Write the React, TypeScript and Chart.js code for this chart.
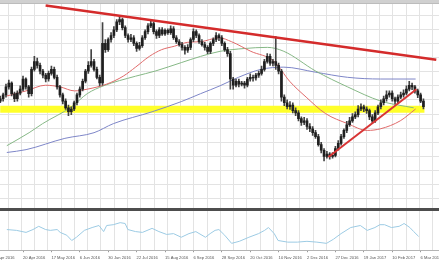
import React, { useEffect, useRef } from 'react';
import { Chart, registerables } from 'chart.js';

Chart.register(...registerables);

// ---------- data (gold, daily-ish candles, Apr 2016 - Mar 2017) ----------
const TICK_DATES = [
  '1 Apr 2016', '20 Apr 2016', '17 May 2016', '6 Jun 2016', '30 Jun 2016', '22 Jul 2016',
  '15 Aug 2016', '6 Sep 2016', '28 Sep 2016', '20 Oct 2016', '10 Nov 2016', '2 Dec 2016',
  '27 Dec 2016', '19 Jan 2017', '10 Feb 2017', '6 Mar 2017',
];
const SLOT_COUNT = 158;
const TICK_EVERY = 10;
const FIRST_CANDLE = 2;

const OPEN = [
  1223, 1227, 1234, 1248, 1255, 1236, 1227, 1237, 1244, 1262,
  1248, 1236, 1279, 1293, 1286, 1276, 1269, 1262, 1272, 1279,
  1265, 1248, 1234, 1223, 1211, 1204, 1209, 1220, 1234, 1244,
  1258, 1276, 1286, 1293, 1279, 1265, 1255, 1325, 1314, 1332,
  1339, 1349, 1363, 1367, 1353, 1339, 1332, 1335, 1325, 1316,
  1321, 1335, 1346, 1356, 1360, 1346, 1339, 1349, 1342, 1348,
  1344, 1351, 1335, 1328, 1323, 1318, 1313, 1318, 1332, 1346,
  1339, 1328, 1323, 1318, 1311, 1325, 1332, 1339, 1335, 1325,
  1314, 1307, 1262, 1251, 1258, 1253, 1255, 1251, 1262, 1265,
  1264, 1269, 1272, 1279, 1293, 1302, 1290, 1293, 1286, 1276,
  1230, 1220, 1213, 1216, 1206, 1202, 1192, 1185, 1188, 1178,
  1174, 1167, 1160, 1146, 1136, 1125, 1129, 1125, 1127, 1139,
  1148, 1160, 1171, 1181, 1188, 1195, 1199, 1209, 1213, 1209,
  1206, 1195, 1188, 1202, 1213, 1220, 1227, 1234, 1237, 1227,
  1223, 1230, 1234, 1237, 1244, 1251, 1248, 1241, 1234, 1223,
];
const HIGH = [
  1232, 1237, 1253, 1260, 1257, 1239, 1241, 1250, 1267, 1264,
  1251, 1283, 1302, 1299, 1290, 1279, 1272, 1276, 1285, 1283,
  1269, 1251, 1237, 1227, 1216, 1213, 1223, 1237, 1248, 1262,
  1279, 1293, 1314, 1297, 1283, 1269, 1362, 1332, 1335, 1344,
  1355, 1367, 1372, 1370, 1356, 1342, 1341, 1339, 1328, 1327,
  1339, 1349, 1360, 1365, 1363, 1349, 1353, 1353, 1351, 1351,
  1356, 1355, 1339, 1332, 1327, 1321, 1323, 1335, 1351, 1349,
  1342, 1332, 1327, 1321, 1328, 1335, 1344, 1342, 1339, 1328,
  1318, 1311, 1265, 1262, 1262, 1258, 1258, 1265, 1271, 1269,
  1272, 1276, 1285, 1297, 1307, 1306, 1297, 1337, 1290, 1279,
  1234, 1225, 1222, 1220, 1211, 1206, 1195, 1194, 1192, 1183,
  1178, 1171, 1164, 1150, 1139, 1134, 1132, 1132, 1143, 1153,
  1164, 1174, 1187, 1194, 1201, 1204, 1215, 1218, 1216, 1213,
  1209, 1199, 1206, 1216, 1225, 1232, 1241, 1241, 1241, 1230,
  1234, 1239, 1243, 1250, 1258, 1255, 1251, 1244, 1237, 1227,
];
const LOW = [
  1220, 1223, 1230, 1244, 1232, 1222, 1223, 1234, 1241, 1244,
  1230, 1232, 1276, 1281, 1271, 1264, 1257, 1258, 1269, 1262,
  1244, 1230, 1218, 1208, 1197, 1199, 1206, 1216, 1230, 1241,
  1255, 1272, 1283, 1276, 1262, 1250, 1251, 1309, 1311, 1327,
  1335, 1346, 1358, 1349, 1335, 1327, 1328, 1321, 1311, 1313,
  1318, 1332, 1342, 1353, 1342, 1334, 1335, 1339, 1339, 1341,
  1341, 1332, 1325, 1320, 1313, 1306, 1309, 1314, 1328, 1335,
  1325, 1320, 1313, 1307, 1307, 1321, 1328, 1330, 1321, 1311,
  1302, 1244, 1244, 1248, 1248, 1250, 1246, 1248, 1258, 1258,
  1260, 1265, 1269, 1276, 1290, 1286, 1285, 1279, 1271, 1223,
  1215, 1209, 1208, 1202, 1197, 1188, 1180, 1181, 1173, 1169,
  1162, 1157, 1143, 1131, 1117, 1122, 1120, 1122, 1124, 1136,
  1145, 1157, 1167, 1178, 1185, 1192, 1195, 1206, 1204, 1201,
  1190, 1183, 1185, 1199, 1209, 1216, 1223, 1230, 1223, 1218,
  1220, 1227, 1230, 1234, 1241, 1243, 1237, 1229, 1220, 1209,
];
const CLOSE = [
  1227, 1234, 1248, 1255, 1236, 1227, 1237, 1244, 1262, 1248,
  1236, 1279, 1293, 1286, 1276, 1269, 1262, 1272, 1279, 1265,
  1248, 1234, 1223, 1211, 1204, 1209, 1220, 1234, 1244, 1258,
  1276, 1286, 1293, 1279, 1265, 1255, 1325, 1314, 1332, 1339,
  1349, 1363, 1367, 1353, 1339, 1332, 1335, 1325, 1316, 1321,
  1335, 1346, 1356, 1360, 1346, 1339, 1349, 1342, 1348, 1344,
  1351, 1335, 1328, 1323, 1318, 1313, 1318, 1332, 1346, 1339,
  1328, 1323, 1318, 1311, 1325, 1332, 1339, 1335, 1325, 1314,
  1307, 1262, 1251, 1258, 1253, 1255, 1251, 1262, 1265, 1264,
  1269, 1272, 1279, 1293, 1302, 1290, 1293, 1286, 1276, 1230,
  1220, 1213, 1216, 1206, 1202, 1192, 1185, 1188, 1178, 1174,
  1167, 1160, 1146, 1136, 1125, 1129, 1125, 1127, 1139, 1148,
  1160, 1171, 1181, 1188, 1195, 1199, 1209, 1213, 1209, 1206,
  1195, 1188, 1202, 1213, 1220, 1227, 1234, 1237, 1227, 1223,
  1230, 1234, 1237, 1244, 1251, 1248, 1241, 1234, 1223, 1213,
];

// moving averages [slot index, price]
const MA_FAST = [
  [1.9, 1232], [8.9, 1241], [16, 1251], [21.3, 1248], [26.5, 1241], [31.1, 1244], [38.2, 1253],
  [44.2, 1267], [48.7, 1283], [53.7, 1302], [58.2, 1314], [62.8, 1320], [67.7, 1327], [72.3, 1328],
  [79, 1335], [83.6, 1328], [90.6, 1311], [99.1, 1293], [104.7, 1258], [110.7, 1230], [117.7, 1201],
  [125.8, 1183], [132.9, 1171], [137.8, 1174], [144.9, 1188], [150.5, 1209],
];
const MA_MID = [
  [1.9, 1144], [10, 1167], [14.9, 1183], [25.5, 1213], [31.1, 1236], [37.1, 1250], [48.7, 1267],
  [55.8, 1276], [65.3, 1291], [72.3, 1302], [79.4, 1311], [88.2, 1316], [96.6, 1318], [102.6, 1311],
  [114.2, 1276], [125.8, 1248], [137.8, 1223], [149.8, 1211],
];
const MA_SLOW = [
  [1.9, 1132], [8.9, 1137], [23, 1157], [33.6, 1167], [40.6, 1183], [54.7, 1204], [65.3, 1222],
  [72.3, 1236], [79.4, 1250], [86.1, 1265], [94.2, 1279], [102.6, 1283], [114.2, 1274],
  [125.8, 1265], [137.8, 1262], [150.5, 1262],
];
const DOWN_TREND = [[16, 1392], [158, 1296]];
const UP_TREND = [[118.8, 1124], [150.8, 1244]];
const SUPPORT = [[-0.5, 1208.4], [153.7, 1208.4]];

// oscillator [slot index, value 0-100]
const OSC = [
  [1.9, 51], [5.4, 49], [8.9, 44], [11.4, 51], [13.5, 59], [16, 51], [17.7, 49], [20.2, 51],
  [21.3, 44], [23.7, 37], [25.5, 24], [27.2, 32], [30.1, 49], [32.9, 56], [35.4, 61], [37.1, 46],
  [38.2, 61], [40.6, 63], [43.1, 68], [44.9, 66], [45.9, 51], [48.7, 46], [51.2, 44], [54.7, 54],
  [57.2, 46], [60, 39], [62.5, 41], [65.3, 32], [68.1, 41], [70.6, 46], [74.1, 32], [75.8, 41],
  [77.6, 49], [79, 51], [81.1, 37], [83.6, 17], [86.4, 22], [89.9, 32], [93.4, 41], [95.6, 49],
  [97, 56], [99.1, 41], [100.5, 24], [104, 20], [107.5, 20], [111, 22], [114.6, 20], [118.1, 17],
  [120.6, 27], [123.4, 41], [126.9, 56], [130.4, 61], [132.9, 49], [135.7, 56], [137.5, 63],
  [139.2, 63], [141.7, 56], [144.5, 59], [145.6, 63], [146.3, 66], [148.4, 56], [149.8, 46],
  [151.6, 34],
];

// ---------- styling / layout constants ----------
const PRICE_MIN = 1030.75;
const PRICE_MAX = 1394.75;
const PRICE_GRID_START = 1050;
const PRICE_GRID_STEP = 25;
const GRID_X_START = 4.75;
const GRID_X_STEP = 4.824;

const X_LABELS = Array.from({ length: SLOT_COUNT }, (_, i) =>
  i % TICK_EVERY === 0 && i / TICK_EVERY < TICK_DATES.length ? TICK_DATES[i / TICK_EVERY] : ''
);
const pts = (arr: number[][]) => arr.map(([x, y]) => ({ x, y }));

export default function App() {
  const ref = useRef<HTMLCanvasElement | null>(null);

  useEffect(() => {
    document.body.style.margin = '0';
    if (!ref.current) return;
    const wicks = X_LABELS.map((_, i) => {
      const k = i - FIRST_CANDLE;
      return k >= 0 && k < CLOSE.length ? [LOW[k], HIGH[k]] : null;
    });
    const bodies = X_LABELS.map((_, i) => {
      const k = i - FIRST_CANDLE;
      return k >= 0 && k < CLOSE.length ? [OPEN[k], CLOSE[k]] : null;
    });
    const lineBase = {
      type: 'line' as const,
      xAxisID: 'xl',
      yAxisID: 'y',
      pointRadius: 0,
      borderWidth: 1,
      fill: false,
    };
    const chart = new Chart(ref.current, {
      type: 'bar',
      data: {
        labels: X_LABELS,
        datasets: [
          { ...lineBase, label: 'Down trend', data: pts(DOWN_TREND), borderColor: '#d42b2b', borderWidth: 2.5, order: 0 } as any,
          { ...lineBase, label: 'Up trend', data: pts(UP_TREND), borderColor: '#d83535', borderWidth: 2, order: 0 } as any,
          {
            type: 'bar', label: 'Body', data: bodies, xAxisID: 'x', yAxisID: 'y',
            backgroundColor: '#1f1f1f', barThickness: 2, grouped: false, order: 1,
          } as any,
          {
            type: 'bar', label: 'Wick', data: wicks, xAxisID: 'x', yAxisID: 'y',
            backgroundColor: '#444444', barThickness: 1, grouped: false, order: 2,
          } as any,
          { ...lineBase, label: 'MA fast', data: pts(MA_FAST), borderColor: '#e06a6a', tension: 0.4, cubicInterpolationMode: 'monotone', order: 3 } as any,
          { ...lineBase, label: 'MA mid', data: pts(MA_MID), borderColor: '#86b886', tension: 0.4, cubicInterpolationMode: 'monotone', order: 3 } as any,
          { ...lineBase, label: 'MA slow', data: pts(MA_SLOW), borderColor: '#7e86c8', tension: 0.4, cubicInterpolationMode: 'monotone', order: 3 } as any,
          { ...lineBase, label: 'Oscillator', data: pts(OSC), yAxisID: 'yo', borderColor: '#9ccbe4', order: 3 } as any,
          { ...lineBase, label: 'Support', data: pts(SUPPORT), borderColor: '#ffff2a', borderWidth: 7, order: 5 } as any,
        ],
      },
      options: {
        responsive: false,
        animation: false,
        layout: { padding: { left: 13.2, right: 18.1, top: 0, bottom: 4.84 } },
        plugins: { legend: { display: false }, tooltip: { enabled: false } },
        scales: {
          x: {
            type: 'category',
            position: 'bottom',
            offset: true,
            grid: { display: true, drawOnChartArea: false, drawTicks: true, tickLength: 2, offset: false, color: '#9a9a9a' },
            border: { display: true, color: '#b4b4b4' },
            ticks: {
              autoSkip: false, maxRotation: 0, minRotation: 0, align: 'start', padding: 3,
              color: '#555555', font: { size: 4.1, family: 'Liberation Sans' },
            },
            afterBuildTicks: (axis: any) => {
              axis.ticks = axis.ticks.filter((t: any) => X_LABELS[t.value] !== '');
            },
          },
          xl: {
            type: 'linear',
            position: 'bottom',
            min: -0.5,
            max: SLOT_COUNT - 0.5,
            grid: { color: '#e3e3e3', drawTicks: false },
            border: { display: false },
            ticks: { display: false },
            afterBuildTicks: (axis: any) => {
              const t = [];
              for (let v = GRID_X_START; v <= axis.max; v += GRID_X_STEP) t.push({ value: v });
              axis.ticks = t;
            },
          },
          y: {
            type: 'linear',
            position: 'right',
            stack: 'panels',
            stackWeight: 208,
            min: PRICE_MIN,
            max: PRICE_MAX,
            grid: { color: '#e3e3e3', drawTicks: false },
            border: { display: false },
            ticks: { display: false },
            afterBuildTicks: (axis: any) => {
              const t = [];
              for (let v = PRICE_GRID_START; v <= PRICE_MAX; v += PRICE_GRID_STEP) t.push({ value: v });
              axis.ticks = t;
            },
          },
          yo: {
            type: 'linear',
            position: 'right',
            stack: 'panels',
            stackWeight: 41,
            min: 0,
            max: 100,
            grid: { color: '#4d4d4d', lineWidth: 3, drawTicks: false },
            border: { display: false },
            ticks: { display: false },
            afterBuildTicks: (axis: any) => {
              axis.ticks = [{ value: 100 }];
            },
          },
        },
      } as any,
    });
    return () => chart.destroy();
  }, []);

  return (
    <div style={{ position: 'relative', width: 439, height: 268, overflow: 'hidden', background: '#ffffff' }}>
      <div style={{ position: 'absolute', left: 0, top: 0, width: 439, height: 3, background: '#d0d0d0', borderBottom: '1px solid #bcbcbc' }} />
      <canvas ref={ref} width={480} height={264} style={{ position: 'absolute', left: -20, top: 4 }} />
    </div>
  );
}
